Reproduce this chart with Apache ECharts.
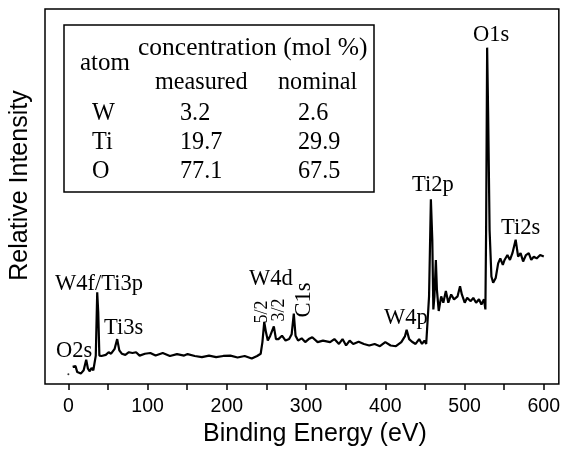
<!DOCTYPE html>
<html>
<head>
<meta charset="utf-8">
<script src="https://cdn.jsdelivr.net/npm/echarts@6/dist/echarts.min.js"></script>
<style>
  html, body { margin: 0; padding: 0; background: #fff; }
  #main { width: 563px; height: 452px; }
</style>
</head>
<body>
<div id="main"></div>
<script>
// XPS survey spectrum
var energy = [5.4, 9.0, 11.2, 15.7, 19.3, 22.5, 24.7, 27.0, 29.2, 31.5, 33.7, 34.6, 36.4, 37.7, 39.1, 41.8,
  47.2, 50.8, 53.9, 58.4, 61.6, 64.3, 67.4, 71.9, 76.4, 80.9, 85.4, 89.9, 96.6, 103.4, 110.1, 119.1,
  128.1, 137.1, 146.1, 150.5, 159.5, 168.5, 177.5, 186.5, 195.5, 204.5, 213.5, 222.5, 231.4, 238.2,
  242.7, 244.9, 247.2, 249.4, 251.7, 254.8, 259.3, 262.0, 265.1, 269.6, 274.1, 278.6, 281.8, 284.5,
  286.7, 289.9, 294.4, 298.9, 303.3, 307.8, 314.6, 321.3, 330.3, 335.7, 341.5, 346.0, 350.5, 355.0,
  359.5, 366.3, 373.0, 379.7, 386.5, 393.2, 400.0, 406.7, 413.4, 420.2, 424.7, 426.9, 430.1, 433.7,
  438.2, 442.7, 446.3, 449.4, 451.6, 453.9, 455.2, 457.5, 459.3, 460.6, 462.0, 463.8, 465.1, 467.4,
  470.5, 473.2, 476.4, 479.5, 483.1, 486.7, 491.2, 494.3, 496.6, 500.2, 503.3, 507.8, 511.0, 514.6,
  518.2, 521.3, 524.5, 526.3, 527.2, 528.5, 529.8, 531.6, 533.9, 536.1, 539.3, 542.4, 545.1, 548.3,
  550.5, 554.1, 557.3, 560.4, 564.5, 567.6, 570.7, 573.9, 577.5, 581.0, 584.2, 587.4, 591.0, 595.4, 600.0];
var intensity = [4.6, 4.8, 3.2, 2.8, 3.7, 6.5, 4.1, 3.4, 4.3, 3.7, 4.0, 7.6, 24.5, 19.1, 7.6, 7.5,
  7.8, 8.5, 8.1, 9.4, 12.0, 9.0, 8.1, 7.8, 8.5, 8.3, 8.5, 7.6, 8.1, 8.3, 7.6, 8.3,
  7.5, 8.0, 7.6, 8.0, 7.5, 7.2, 7.6, 7.2, 7.5, 7.6, 7.1, 7.5, 6.8, 7.5,
  8.1, 11.2, 16.6, 13.8, 11.6, 12.9, 15.4, 12.0, 12.0, 12.9, 11.6, 12.0, 13.3, 18.8,
  12.9, 11.6, 12.2, 11.2, 12.0, 12.5, 11.2, 11.6, 11.2, 12.0, 10.7, 12.0, 10.3, 11.6,
  10.7, 11.3, 10.7, 10.3, 10.7, 10.1, 11.2, 10.3, 10.1, 11.2, 12.7, 14.5, 12.0, 11.3,
  10.7, 12.0, 10.7, 11.6, 10.7, 11.2, 23.4, 49.3, 38.4, 19.9, 23.4, 33.1, 25.2, 19.5,
  23.4, 21.7, 24.8, 21.7, 23.9, 22.6, 23.4, 26.1, 23.9, 21.7, 23.0, 22.1, 23.0, 21.7,
  22.6, 21.2, 22.6, 19.9, 41.0, 89.7, 71.7, 41.0, 28.7, 27.0, 28.3, 32.2, 33.5, 31.8,
  33.1, 34.4, 33.1, 34.9, 38.5, 34.0, 34.9, 32.7, 34.4, 34.9, 33.1, 34.0, 33.5, 34.4, 34.0];
var startDot = [[0, 2.6]];

var tickValues = [0, 50, 100, 150, 200, 250, 300, 350, 400, 450, 500, 550, 600];
var tickLabels = [0, 100, 200, 300, 400, 500, 600];

// inset table
var tableHead = 'concentration (mol %)';
var atoms = ['W', 'Ti', 'O'];
var measured = ['3.2', '19.7', '77.1'];
var nominal = ['2.6', '29.9', '67.5'];

var spectrum = energy.map(function (e, i) { return [e, intensity[i]]; });

var serif = '"Liberation Serif", "Times New Roman", serif';
var sans = '"Liberation Sans", Arial, sans-serif';

function txt(s, x, baseline, size) {
  return {
    type: 'text',
    z: 100,
    style: {
      text: s, x: x, y: baseline - 0.34 * size,
      font: size + 'px ' + serif, fill: '#000',
      textAlign: 'left', textVerticalAlign: 'middle'
    }
  };
}
function rotTxt(s, cx, cy, size) {
  return {
    type: 'text', z: 100, x: cx, y: cy, rotation: Math.PI / 2,
    style: {
      text: s, x: 0, y: 0, font: size + 'px ' + serif, fill: '#000',
      textAlign: 'center', textVerticalAlign: 'middle'
    }
  };
}

var graphics = [
  // peak labels
  txt('O2s', 56, 359, 22.5),
  txt('W4f/Ti3p', 55, 292, 22.5),
  txt('Ti3s', 104, 336, 22.5),
  txt('W4d', 249, 287, 22.5),
  rotTxt('5/2', 262, 312, 18),
  rotTxt('3/2', 279, 310, 18),
  rotTxt('C1s', 304, 300, 22.5),
  txt('W4p', 384, 326, 22.5),
  txt('Ti2p', 412, 193, 22.5),
  txt('O1s', 473, 43, 22.5),
  txt('Ti2s', 501, 236, 22.5),
  // table
  {
    type: 'rect', z: 90,
    shape: { x: 64, y: 25, width: 310, height: 167 },
    style: { fill: '#fff', stroke: '#000', lineWidth: 1.5 }
  },
  txt(tableHead, 138, 57, 25.5),
  txt('atom', 80, 72, 25),
  txt('measured', 155, 91, 24.2),
  txt('nominal', 278, 91, 24.2)
];
atoms.forEach(function (a, i) {
  var base = 121.5 + i * 29;
  graphics.push(txt(a, 92, base, 24.2));
  graphics.push(txt(measured[i], 180, base, 24.2));
  graphics.push(txt(nominal[i], 298, base, 24.2));
});

var chart = echarts.init(document.getElementById('main'));

chart.setOption({
  animation: false,
  backgroundColor: '#fff',
  grid: {
    left: 43, right: 3, top: 9, bottom: 63,
    show: true, borderColor: '#000', borderWidth: 1.5,
    backgroundColor: 'transparent'
  },
  xAxis: {
    type: 'value',
    min: -29.5, max: 619,
    name: 'Binding Energy (eV)',
    nameLocation: 'middle',
    nameGap: 36,
    nameTextStyle: { fontFamily: sans, fontSize: 25, color: '#000', padding: [0, 0, 0, 26] },
    axisLine: { show: false },
    splitLine: { show: false },
    axisTick: {
      show: true, length: 6, customValues: tickValues,
      lineStyle: { color: '#000', width: 1.5 }
    },
    axisLabel: {
      customValues: tickLabels, margin: 13,
      fontFamily: sans, fontSize: 19.5, color: '#000'
    }
  },
  yAxis: {
    type: 'value',
    min: 0, max: 100,
    name: 'Relative Intensity',
    nameLocation: 'middle',
    nameGap: 12,
    nameTextStyle: { fontFamily: sans, fontSize: 25, color: '#000', padding: [0, 0, 0, 22] },
    axisLine: { show: false },
    axisTick: { show: false },
    axisLabel: { show: false },
    splitLine: { show: false }
  },
  graphic: graphics,
  series: [
    {
      type: 'line',
      data: spectrum,
      showSymbol: false,
      smooth: false,
      lineStyle: { color: '#000', width: 2.2 },
      z: 5
    },
    {
      type: 'scatter',
      data: startDot,
      symbolSize: 2,
      itemStyle: { color: '#000' }
    }
  ]
});
</script>
</body>
</html>
